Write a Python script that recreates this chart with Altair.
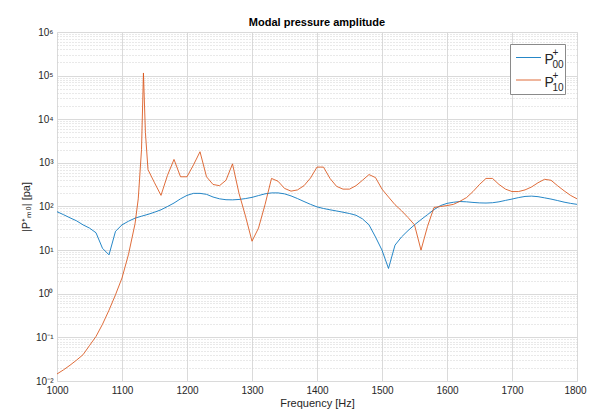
import altair as alt
import pandas as pd

# ---- data ----
freq_p00 = list(range(1000, 1801, 10))
amp_p00 = [76, 65, 55, 47, 38, 32, 25, 11, 7.8, 27,
           38, 46, 54, 60, 66, 74, 84, 100, 120, 150,
           180, 200, 200, 190, 165, 150, 143, 142, 145, 152,
           162, 178, 195, 205, 205, 195, 175, 152, 130, 112,
           98, 90, 84, 79, 74, 69, 63, 52, 38, 20,
           10, 3.8, 13, 20, 28, 38, 50, 65, 85, 105,
           118, 125, 130, 128, 124, 121, 120, 122, 128, 138,
           148, 160, 170, 173, 168, 158, 148, 137, 126, 118,
           112]

freq_p10 = [1000, 1010, 1020, 1030, 1040, 1050, 1060, 1070, 1080, 1090,
            1100, 1110, 1120, 1125, 1130, 1133, 1136, 1140, 1150, 1160,
            1170, 1180, 1190, 1200, 1210, 1220, 1230, 1240, 1250, 1260,
            1270, 1280, 1290, 1300, 1310, 1320, 1330, 1340, 1350, 1360,
            1370, 1380, 1390, 1400, 1410, 1420, 1430, 1440, 1450, 1460,
            1470, 1480, 1490, 1500, 1510, 1520, 1530, 1540, 1550, 1560,
            1570, 1580, 1590, 1600, 1610, 1620, 1630, 1640, 1650, 1660,
            1670, 1680, 1690, 1700, 1710, 1720, 1730, 1740, 1750, 1760,
            1770, 1780, 1790, 1800]
amp_p10 = [0.0145, 0.018, 0.023, 0.030, 0.040, 0.065, 0.105, 0.20, 0.42, 0.95,
           2.3, 8, 40, 150, 2000, 115000, 5000, 700, 350, 180,
           520, 1200, 480, 480, 900, 1800, 480, 320, 300, 400,
           950, 200, 60, 16, 32, 110, 440, 380, 260, 225,
           240, 300, 450, 800, 800, 440, 290, 250, 250, 300,
           400, 540, 460, 250, 165, 110, 80, 56, 38, 10,
           35, 95, 100, 105, 112, 132, 160, 220, 320, 440,
           440, 320, 250, 220, 220, 240, 280, 350, 420, 400,
           300, 230, 180, 150]

series_names = ["P00", "P10"]
series_colors = ["#0072BD", "#D95319"]

x_ticks = list(range(1000, 1801, 100))
y_major = [10.0 ** k for k in range(-2, 7)]
y_minor = [m * 10.0 ** k for k in range(-2, 6) for m in range(2, 10)]
y_ticks = sorted(y_major + y_minor)
y_labels = ["10\u207b\u00b2", "10\u207b\u00b9", "10\u2070", "10\u00b9", "10\u00b2",
            "10\u00b3", "10\u2074", "10\u2075", "10\u2076"]

df = pd.concat([
    pd.DataFrame({"f": freq_p00, "amp": amp_p00, "series": series_names[0]}),
    pd.DataFrame({"f": freq_p10, "amp": amp_p10, "series": series_names[1]}),
])

FONT = "Liberation Sans"
TXT = "#262626"
is_major = "abs(log(datum.value)/LN10 - round(log(datum.value)/LN10)) < 0.001"
label_expr = ("(" + is_major + ") ? [" + ",".join("'" + s + "'" for s in y_labels)
              + "][round(log(datum.value)/LN10) + 2] : ''")

lines = alt.Chart(df).mark_line(strokeWidth=1, strokeOpacity=0.85, clip=True).encode(
    x=alt.X("f:Q",
            scale=alt.Scale(domain=[1000, 1800], nice=False, zero=False),
            axis=alt.Axis(values=x_ticks, format="d", title="Frequency [Hz]", ticks=False,
                          labelPadding=4, labelFontSize=10, labelColor=TXT,
                          labelFont=FONT, titleFont=FONT, titleFontSize=11,
                          titleFontWeight="normal", titleColor=TXT,
                          titleBaseline="alphabetic", titleY=25,
                          labelOffset={"condition": {"test": "datum.value == 1800",
                                                     "value": -2},
                                       "value": 0},
                          grid=True, gridColor="#dadada", domain=False,
                          labelFlush=False)),
    y=alt.Y("amp:Q",
            scale=alt.Scale(type="log", domain=[0.01, 1e6], nice=False),
            axis=alt.Axis(values=y_ticks, labelExpr=label_expr, ticks=False,
                          title="|P\u207a\u2098\u2080| [pa]",
                          labelPadding=4, labelFontSize=10, labelColor=TXT,
                          labelFont=FONT, titleFont=FONT, titleFontSize=11,
                          titleFontWeight="normal", titleColor=TXT,
                          titleBaseline="alphabetic", titleX=-28,
                          grid=True,
                          gridDash={"condition": {"test": is_major, "value": []},
                                    "value": [1, 2]},
                          gridColor={"condition": {"test": is_major, "value": "#dadada"},
                                     "value": "#d2d2d2"},
                          domain=False, labelFlush=False, labelOverlap=False)),
    color=alt.Color("series:N",
                    scale=alt.Scale(domain=series_names, range=series_colors),
                    legend=None),
)

one = pd.DataFrame({"a": [0]})
box = alt.Chart(one).mark_rect(fill="white", stroke="#8a8a8a", strokeWidth=1).encode(
    x=alt.value(453.5), x2=alt.value(508.5), y=alt.value(12.5), y2=alt.value(62.5))
rule1 = alt.Chart(one).mark_rule(color=series_colors[0], strokeWidth=1, opacity=0.85).encode(
    x=alt.value(459), x2=alt.value(484), y=alt.value(25.5))
rule2 = alt.Chart(one).mark_rule(color=series_colors[1], strokeWidth=1, opacity=0.85).encode(
    x=alt.value(459), x2=alt.value(484), y=alt.value(48))


def txt(s, x, y, size, align="left", weight="normal", color=TXT):
    return alt.Chart(one).mark_text(align=align, baseline="alphabetic",
                                    font=FONT, fontSize=size, fontWeight=weight,
                                    color=color).encode(
        x=alt.value(x), y=alt.value(y), text=alt.value(s))


title = txt("Modal pressure amplitude", 260, -6, 11, align="center",
            weight="bold", color="#000000")

legend_layers = [
    box, rule1, rule2,
    txt("P", 487.5, 31.5, 14), txt("+", 495.5, 23.5, 10), txt("00", 495.5, 35.5, 10),
    txt("P", 487.5, 54.5, 14), txt("+", 495.5, 46.5, 10), txt("10", 495.5, 58.5, 10),
]

chart = alt.layer(lines, title, *legend_layers).properties(
    width=520, height=349,
    autosize=alt.AutoSizeParams(type="none"),
    padding={"left": 49, "top": 24, "right": 10, "bottom": 28},
).configure_view(stroke="#707070", strokeWidth=1).configure(background="white")

chart.save("out.html", embed_options={"renderer": "svg", "actions": False})
